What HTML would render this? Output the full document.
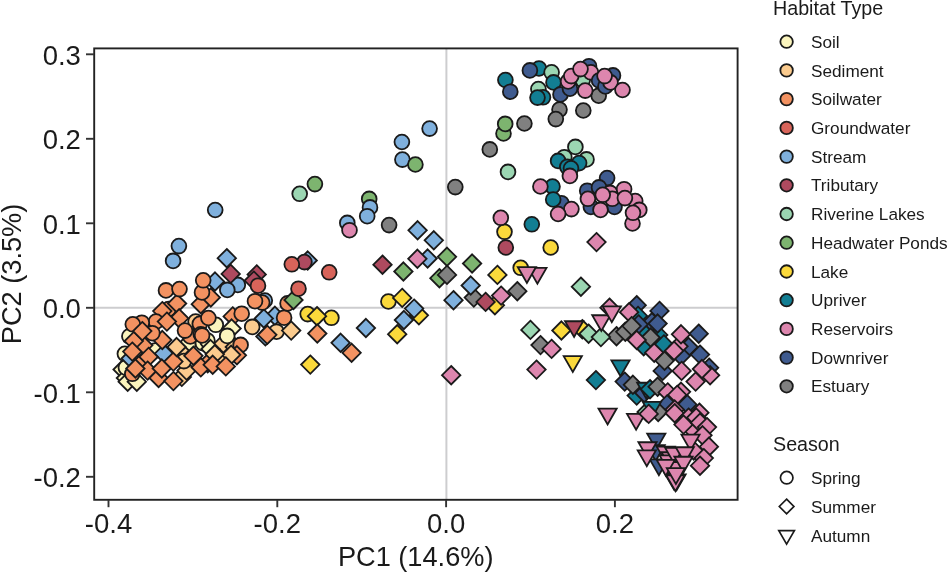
<!DOCTYPE html>
<html><head><meta charset="utf-8"><title>PCA Habitat Type</title>
<style>html,body{margin:0;padding:0;background:#fff}body{width:948px;height:573px;position:relative;overflow:hidden}</style></head>
<body>
<svg width="948" height="573" viewBox="0 0 948 573" style="position:absolute;left:0;top:0">
<rect width="948" height="573" fill="#fff"/>
<line x1="94" x2="738" y1="307.8" y2="307.8" stroke="#cdcdcf" stroke-width="2"/>
<line x1="446.4" x2="446.4" y1="48" y2="500" stroke="#cdcdcf" stroke-width="2"/>
<g stroke="#1a1a1a" stroke-width="1.8" stroke-linejoin="miter">
<circle cx="429.6" cy="128.6" r="7.4" fill="#7FB0DD"/>
<circle cx="401.9" cy="142.0" r="7.4" fill="#7FB0DD"/>
<circle cx="505.4" cy="80.0" r="7.4" fill="#127E93"/>
<circle cx="510.3" cy="91.7" r="7.4" fill="#3F5B8F"/>
<circle cx="503.5" cy="133.5" r="7.4" fill="#7DB46F"/>
<circle cx="505.2" cy="123.9" r="7.4" fill="#7DB46F"/>
<circle cx="539.0" cy="68.5" r="7.4" fill="#127E93"/>
<circle cx="529.9" cy="70.4" r="7.4" fill="#3F5B8F"/>
<circle cx="551.6" cy="72.3" r="7.4" fill="#9BD6B2"/>
<circle cx="553.5" cy="82.4" r="7.4" fill="#127E93"/>
<circle cx="538.4" cy="89.0" r="7.4" fill="#9BD6B2"/>
<circle cx="543.0" cy="97.3" r="7.4" fill="#127E93"/>
<circle cx="537.5" cy="97.6" r="7.4" fill="#127E93"/>
<circle cx="560.5" cy="94.4" r="7.4" fill="#3F5B8F"/>
<circle cx="570.0" cy="88.7" r="7.4" fill="#3F5B8F"/>
<circle cx="582.7" cy="80.1" r="7.4" fill="#9BD6B2"/>
<circle cx="568.1" cy="81.4" r="7.4" fill="#DD86AE"/>
<circle cx="571.3" cy="76.1" r="7.4" fill="#DD86AE"/>
<circle cx="589.0" cy="66.2" r="7.4" fill="#3F5B8F"/>
<circle cx="590.9" cy="72.3" r="7.4" fill="#DD86AE"/>
<circle cx="580.5" cy="69.1" r="7.4" fill="#DD86AE"/>
<circle cx="598.7" cy="95.7" r="7.4" fill="#808080"/>
<circle cx="585.2" cy="90.6" r="7.4" fill="#DD86AE"/>
<circle cx="599.1" cy="80.5" r="7.4" fill="#3F5B8F"/>
<circle cx="605.4" cy="86.4" r="7.4" fill="#3F5B8F"/>
<circle cx="613.0" cy="75.4" r="7.4" fill="#3F5B8F"/>
<circle cx="610.5" cy="82.4" r="7.4" fill="#DD86AE"/>
<circle cx="604.6" cy="76.1" r="7.4" fill="#DD86AE"/>
<circle cx="622.5" cy="90.0" r="7.4" fill="#DD86AE"/>
<circle cx="559.5" cy="109.6" r="7.4" fill="#808080"/>
<circle cx="555.8" cy="119.1" r="7.4" fill="#808080"/>
<circle cx="583.3" cy="110.5" r="7.4" fill="#808080"/>
<circle cx="524.4" cy="123.5" r="7.4" fill="#808080"/>
<circle cx="575.4" cy="146.9" r="7.4" fill="#9BD6B2"/>
<circle cx="564.3" cy="157.2" r="7.4" fill="#9BD6B2"/>
<circle cx="558.1" cy="160.9" r="7.4" fill="#127E93"/>
<circle cx="586.5" cy="159.4" r="7.4" fill="#9BD6B2"/>
<circle cx="579.1" cy="163.1" r="7.4" fill="#127E93"/>
<circle cx="567.3" cy="166.8" r="7.4" fill="#127E93"/>
<circle cx="571.0" cy="168.3" r="7.4" fill="#127E93"/>
<circle cx="569.9" cy="175.9" r="7.4" fill="#DD86AE"/>
<circle cx="552.5" cy="186.5" r="7.4" fill="#127E93"/>
<circle cx="540.4" cy="186.5" r="7.4" fill="#DD86AE"/>
<circle cx="561.4" cy="203.2" r="7.4" fill="#3F5B8F"/>
<circle cx="553.2" cy="199.5" r="7.4" fill="#127E93"/>
<circle cx="571.4" cy="209.1" r="7.4" fill="#DD86AE"/>
<circle cx="558.1" cy="214.0" r="7.4" fill="#DD86AE"/>
<circle cx="531.8" cy="224.3" r="7.4" fill="#127E93"/>
<circle cx="550.7" cy="247.5" r="7.4" fill="#FBD93B"/>
<path d="M596.5 232.9L605.7 242.1L596.5 251.29999999999998L587.3 242.1Z" fill="#DD86AE"/>
<circle cx="607.1" cy="178.1" r="7.4" fill="#3F5B8F"/>
<circle cx="587.2" cy="190.7" r="7.4" fill="#3F5B8F"/>
<circle cx="599.0" cy="187.4" r="7.4" fill="#3F5B8F"/>
<circle cx="590.9" cy="206.9" r="7.4" fill="#3F5B8F"/>
<circle cx="614.5" cy="206.9" r="7.4" fill="#3F5B8F"/>
<circle cx="610.1" cy="192.9" r="7.4" fill="#DD86AE"/>
<circle cx="612.3" cy="198.8" r="7.4" fill="#DD86AE"/>
<circle cx="624.1" cy="189.2" r="7.4" fill="#DD86AE"/>
<circle cx="635.2" cy="201.0" r="7.4" fill="#DD86AE"/>
<circle cx="639.3" cy="209.9" r="7.4" fill="#DD86AE"/>
<circle cx="632.5" cy="223.5" r="7.4" fill="#DD86AE"/>
<circle cx="633.0" cy="212.8" r="7.4" fill="#DD86AE"/>
<circle cx="624.9" cy="198.1" r="7.4" fill="#DD86AE"/>
<circle cx="587.9" cy="198.8" r="7.4" fill="#DD86AE"/>
<circle cx="602.7" cy="194.8" r="7.4" fill="#DD86AE"/>
<circle cx="600.5" cy="209.9" r="7.4" fill="#DD86AE"/>
<circle cx="215.2" cy="210.0" r="7.4" fill="#7FB0DD"/>
<circle cx="299.7" cy="193.8" r="7.4" fill="#9BD6B2"/>
<circle cx="314.9" cy="184.1" r="7.4" fill="#7DB46F"/>
<circle cx="178.9" cy="246.1" r="7.4" fill="#7FB0DD"/>
<circle cx="402.4" cy="159.6" r="7.4" fill="#7FB0DD"/>
<circle cx="415.4" cy="164.5" r="7.4" fill="#7DB46F"/>
<circle cx="455.3" cy="187.1" r="7.4" fill="#808080"/>
<circle cx="369.2" cy="198.9" r="7.4" fill="#7DB46F"/>
<circle cx="370.0" cy="207.4" r="7.4" fill="#7FB0DD"/>
<circle cx="367.2" cy="216.2" r="7.4" fill="#7FB0DD"/>
<circle cx="347.3" cy="222.9" r="7.4" fill="#7FB0DD"/>
<circle cx="349.5" cy="230.2" r="7.4" fill="#DD86AE"/>
<circle cx="389.1" cy="225.1" r="7.4" fill="#808080"/>
<path d="M417.6 221.10000000000002L426.8 230.3L417.6 239.5L408.40000000000003 230.3Z" fill="#7FB0DD"/>
<path d="M433.8 231.10000000000002L443.0 240.3L433.8 249.5L424.6 240.3Z" fill="#7FB0DD"/>
<circle cx="129.4" cy="336.3" r="7.4" fill="#FBF5BE"/>
<path d="M122.6 360.3L131.79999999999998 369.5L122.6 378.7L113.39999999999999 369.5Z" fill="#FBF5BE"/>
<path d="M125.9 368.8L135.1 378.0L125.9 387.2L116.7 378.0Z" fill="#FBF5BE"/>
<path d="M127.7 372.5L136.9 381.7L127.7 390.9L118.5 381.7Z" fill="#FBF5BE"/>
<path d="M136.8 372.5L146.0 381.7L136.8 390.9L127.60000000000001 381.7Z" fill="#FBF5BE"/>
<circle cx="124.9" cy="353.8" r="7.4" fill="#FBF5BE"/>
<circle cx="125.9" cy="367.6" r="7.4" fill="#FBF5BE"/>
<circle cx="155.5" cy="350.5" r="7.4" fill="#FBF5BE"/>
<circle cx="188.2" cy="344.2" r="7.4" fill="#FBF5BE"/>
<circle cx="202.9" cy="343.2" r="7.4" fill="#FBF5BE"/>
<path d="M130.7 349.3L139.89999999999998 358.5L130.7 367.7L121.49999999999999 358.5Z" fill="#7FB0DD"/>
<path d="M163.9 344.5L173.1 353.7L163.9 362.9L154.70000000000002 353.7Z" fill="#7FB0DD"/>
<path d="M179.7 341.3L188.89999999999998 350.5L179.7 359.7L170.5 350.5Z" fill="#FBCB8E"/>
<path d="M181.8 367.7L191.0 376.9L181.8 386.09999999999997L172.60000000000002 376.9Z" fill="#FBCB8E"/>
<path d="M186.6 361.40000000000003L195.79999999999998 370.6L186.6 379.8L177.4 370.6Z" fill="#FBCB8E"/>
<circle cx="183.9" cy="361.1" r="7.4" fill="#FBCB8E"/>
<circle cx="132.3" cy="373.8" r="7.4" fill="#F39261"/>
<path d="M143.3 336.1L152.5 345.3L143.3 354.5L134.10000000000002 345.3Z" fill="#F39261"/>
<path d="M133.8 331.90000000000003L143.0 341.1L133.8 350.3L124.60000000000001 341.1Z" fill="#F39261"/>
<path d="M132.3 342.40000000000003L141.5 351.6L132.3 360.8L123.10000000000001 351.6Z" fill="#F39261"/>
<path d="M142.8 352.40000000000003L152.0 361.6L142.8 370.8L133.60000000000002 361.6Z" fill="#F39261"/>
<path d="M148.6 347.7L157.79999999999998 356.9L148.6 366.09999999999997L139.4 356.9Z" fill="#F39261"/>
<path d="M147.6 361.40000000000003L156.79999999999998 370.6L147.6 379.8L138.4 370.6Z" fill="#F39261"/>
<path d="M135.4 359.3L144.6 368.5L135.4 377.7L126.2 368.5Z" fill="#F39261"/>
<path d="M158.6 368.8L167.79999999999998 378.0L158.6 387.2L149.4 378.0Z" fill="#F39261"/>
<path d="M161.8 359.3L171.0 368.5L161.8 377.7L152.60000000000002 368.5Z" fill="#F39261"/>
<path d="M173.4 371.90000000000003L182.6 381.1L173.4 390.3L164.20000000000002 381.1Z" fill="#F39261"/>
<path d="M173.4 352.40000000000003L182.6 361.6L173.4 370.8L164.20000000000002 361.6Z" fill="#F39261"/>
<path d="M162.3 330.8L171.5 340.0L162.3 349.2L153.10000000000002 340.0Z" fill="#F39261"/>
<path d="M207.7 354.0L216.89999999999998 363.2L207.7 372.4L198.5 363.2Z" fill="#F39261"/>
<path d="M200.8 358.2L210.0 367.4L200.8 376.59999999999997L191.60000000000002 367.4Z" fill="#F39261"/>
<path d="M193.4 346.6L202.6 355.8L193.4 365.0L184.20000000000002 355.8Z" fill="#F39261"/>
<circle cx="195.6" cy="321.6" r="7.4" fill="#FBCB8E"/>
<path d="M176.6 337.8L185.79999999999998 347.0L176.6 356.2L167.4 347.0Z" fill="#FBCB8E"/>
<circle cx="168.7" cy="309.0" r="7.4" fill="#F39261"/>
<path d="M177.1 294.3L186.29999999999998 303.5L177.1 312.7L167.9 303.5Z" fill="#F39261"/>
<path d="M162.3 301.90000000000003L171.5 311.1L162.3 320.3L153.10000000000002 311.1Z" fill="#F39261"/>
<path d="M179.2 309.1L188.39999999999998 318.3L179.2 327.5L170.0 318.3Z" fill="#F39261"/>
<circle cx="156.0" cy="321.6" r="7.4" fill="#F39261"/>
<path d="M166.9 312.40000000000003L176.1 321.6L166.9 330.8L157.70000000000002 321.6Z" fill="#F39261"/>
<path d="M200.8 295.0L210.0 304.2L200.8 313.4L191.60000000000002 304.2Z" fill="#F39261"/>
<circle cx="141.8" cy="322.7" r="7.4" fill="#F39261"/>
<circle cx="132.8" cy="324.3" r="7.4" fill="#F39261"/>
<circle cx="152.3" cy="333.2" r="7.4" fill="#F39261"/>
<path d="M142.3 321.90000000000003L151.5 331.1L142.3 340.3L133.10000000000002 331.1Z" fill="#F39261"/>
<circle cx="199.8" cy="323.8" r="7.4" fill="#F39261"/>
<circle cx="190.3" cy="336.4" r="7.4" fill="#F39261"/>
<circle cx="185.0" cy="330.6" r="7.4" fill="#F39261"/>
<circle cx="200.8" cy="334.3" r="7.4" fill="#F39261"/>
<path d="M221.1 336.7L230.29999999999998 345.9L221.1 355.09999999999997L211.9 345.9Z" fill="#FBCB8E"/>
<path d="M234.8 337.8L244.0 347.0L234.8 356.2L225.60000000000002 347.0Z" fill="#FBCB8E"/>
<circle cx="215.8" cy="324.8" r="7.4" fill="#FBF5BE"/>
<circle cx="208.4" cy="318.0" r="7.4" fill="#F39261"/>
<path d="M232.7 307.2L241.89999999999998 316.4L232.7 325.59999999999997L223.5 316.4Z" fill="#F39261"/>
<circle cx="241.7" cy="313.7" r="7.4" fill="#F39261"/>
<path d="M231.6 319.3L240.79999999999998 328.5L231.6 337.7L222.4 328.5Z" fill="#FBF5BE"/>
<circle cx="227.2" cy="335.9" r="7.4" fill="#FBF5BE"/>
<circle cx="252.2" cy="326.9" r="7.4" fill="#FBCB8E"/>
<path d="M274.9 306.6L284.09999999999997 315.8L274.9 325.0L265.7 315.8Z" fill="#7FB0DD"/>
<path d="M263.8 309.3L273.0 318.5L263.8 327.7L254.60000000000002 318.5Z" fill="#7FB0DD"/>
<circle cx="284.1" cy="317.7" r="7.4" fill="#F39261"/>
<circle cx="276.5" cy="331.7" r="7.4" fill="#FBCB8E"/>
<path d="M291.2 321.40000000000003L300.4 330.6L291.2 339.8L282.0 330.6Z" fill="#FBCB8E"/>
<path d="M265.4 327.2L274.59999999999997 336.4L265.4 345.59999999999997L256.2 336.4Z" fill="#7FB0DD"/>
<path d="M267.3 325.6L276.5 334.8L267.3 344.0L258.1 334.8Z" fill="#F39261"/>
<circle cx="207.4" cy="340.6" r="7.4" fill="#FBF5BE"/>
<circle cx="202.1" cy="335.4" r="7.4" fill="#F39261"/>
<circle cx="240.6" cy="344.9" r="7.4" fill="#F39261"/>
<path d="M210.5 339.8L219.7 349.0L210.5 358.2L201.3 349.0Z" fill="#FBF5BE"/>
<path d="M220.0 349.3L229.2 358.5L220.0 367.7L210.8 358.5Z" fill="#FBCB8E"/>
<path d="M236.9 346.1L246.1 355.3L236.9 364.5L227.70000000000002 355.3Z" fill="#F39261"/>
<path d="M231.1 345.6L240.29999999999998 354.8L231.1 364.0L221.9 354.8Z" fill="#FBCB8E"/>
<path d="M214.8 345.1L224.0 354.3L214.8 363.5L205.60000000000002 354.3Z" fill="#FBCB8E"/>
<path d="M212.7 355.6L221.89999999999998 364.8L212.7 374.0L203.5 364.8Z" fill="#F39261"/>
<path d="M225.8 357.2L235.0 366.4L225.8 375.59999999999997L216.60000000000002 366.4Z" fill="#F39261"/>
<path d="M307.7 251.3L316.9 260.5L307.7 269.7L298.5 260.5Z" fill="#7FB0DD"/>
<circle cx="173.1" cy="260.9" r="7.4" fill="#7FB0DD"/>
<path d="M226.8 249.0L236.0 258.2L226.8 267.4L217.60000000000002 258.2Z" fill="#7FB0DD"/>
<circle cx="237.8" cy="284.9" r="7.4" fill="#7FB0DD"/>
<path d="M230.7 264.7L239.89999999999998 273.9L230.7 283.09999999999997L221.5 273.9Z" fill="#AE4A5F"/>
<circle cx="227.3" cy="289.9" r="7.4" fill="#7FB0DD"/>
<path d="M215.0 272.3L224.2 281.5L215.0 290.7L205.8 281.5Z" fill="#7FB0DD"/>
<path d="M210.8 288.3L220.0 297.5L210.8 306.7L201.60000000000002 297.5Z" fill="#F39261"/>
<circle cx="202.0" cy="292.4" r="7.4" fill="#F39261"/>
<circle cx="203.2" cy="280.3" r="7.4" fill="#F39261"/>
<circle cx="166.0" cy="290.4" r="7.4" fill="#F39261"/>
<circle cx="179.5" cy="289.1" r="7.4" fill="#F39261"/>
<path d="M256.7 265.2L265.9 274.4L256.7 283.59999999999997L247.5 274.4Z" fill="#AE4A5F"/>
<path d="M253.8 271.40000000000003L263.0 280.6L253.8 289.8L244.60000000000002 280.6Z" fill="#AE4A5F"/>
<circle cx="258.0" cy="285.7" r="7.4" fill="#D8645A"/>
<circle cx="304.4" cy="262.1" r="7.4" fill="#AE4A5F"/>
<circle cx="291.8" cy="264.3" r="7.4" fill="#D8645A"/>
<circle cx="287.6" cy="303.4" r="7.4" fill="#F39261"/>
<path d="M293.5 290.8L302.7 300.0L293.5 309.2L284.3 300.0Z" fill="#7DB46F"/>
<circle cx="298.5" cy="288.7" r="7.4" fill="#D8645A"/>
<circle cx="264.8" cy="300.5" r="7.4" fill="#7FB0DD"/>
<circle cx="262.2" cy="302.6" r="7.4" fill="#F39261"/>
<circle cx="255.0" cy="301.2" r="7.4" fill="#F39261"/>
<circle cx="329.2" cy="272.3" r="7.4" fill="#D8645A"/>
<path d="M382.5 255.5L391.7 264.7L382.5 273.9L373.3 264.7Z" fill="#AE4A5F"/>
<path d="M403.4 262.3L412.59999999999997 271.5L403.4 280.7L394.2 271.5Z" fill="#7DB46F"/>
<path d="M427.6 249.3L436.8 258.5L427.6 267.7L418.40000000000003 258.5Z" fill="#7FB0DD"/>
<path d="M417.4 249.60000000000002L426.59999999999997 258.8L417.4 268.0L408.2 258.8Z" fill="#DD86AE"/>
<path d="M447.0 247.60000000000002L456.2 256.8L447.0 266.0L437.8 256.8Z" fill="#7DB46F"/>
<path d="M439.4 269.0L448.59999999999997 278.2L439.4 287.4L430.2 278.2Z" fill="#7DB46F"/>
<path d="M447.0 265.7L456.2 274.9L447.0 284.09999999999997L437.8 274.9Z" fill="#808080"/>
<circle cx="307.7" cy="314.1" r="7.4" fill="#FBD93B"/>
<circle cx="331.4" cy="317.8" r="7.4" fill="#FBD93B"/>
<path d="M317.0 307.0L326.2 316.2L317.0 325.4L307.8 316.2Z" fill="#FBD93B"/>
<path d="M317.3 324.3L326.5 333.5L317.3 342.7L308.1 333.5Z" fill="#F39261"/>
<path d="M310.3 355.40000000000003L319.5 364.6L310.3 373.8L301.1 364.6Z" fill="#FBD93B"/>
<path d="M340.6 333.6L349.8 342.8L340.6 352.0L331.40000000000003 342.8Z" fill="#7FB0DD"/>
<path d="M351.6 343.6L360.8 352.8L351.6 362.0L342.40000000000003 352.8Z" fill="#F39261"/>
<path d="M365.9 318.8L375.09999999999997 328.0L365.9 337.2L356.7 328.0Z" fill="#7FB0DD"/>
<circle cx="388.4" cy="301.5" r="7.4" fill="#FBD93B"/>
<path d="M402.2 288.7L411.4 297.9L402.2 307.09999999999997L393.0 297.9Z" fill="#FBD93B"/>
<path d="M418.9 306.1L428.09999999999997 315.3L418.9 324.5L409.7 315.3Z" fill="#FBD93B"/>
<path d="M414.1 299.40000000000003L423.3 308.6L414.1 317.8L404.90000000000003 308.6Z" fill="#7FB0DD"/>
<path d="M403.9 310.8L413.09999999999997 320.0L403.9 329.2L394.7 320.0Z" fill="#7FB0DD"/>
<path d="M397.2 325.0L406.4 334.2L397.2 343.4L388.0 334.2Z" fill="#FBD93B"/>
<path d="M451.2 366.0L460.4 375.2L451.2 384.4L442.0 375.2Z" fill="#DD86AE"/>
<circle cx="504.5" cy="231.8" r="7.4" fill="#FBD93B"/>
<circle cx="505.8" cy="247.5" r="7.4" fill="#AE4A5F"/>
<path d="M472.1 254.3L481.3 263.5L472.1 272.7L462.90000000000003 263.5Z" fill="#7DB46F"/>
<path d="M497.4 265.7L506.59999999999997 274.9L497.4 284.09999999999997L488.2 274.9Z" fill="#FBD93B"/>
<circle cx="520.7" cy="267.8" r="7.4" fill="#FBD93B"/>
<path d="M528.30 267.93L546.50 267.93L537.4 283.73Z" fill="#DD86AE"/>
<path d="M517.80 267.03L536.00 267.03L526.9 282.83Z" fill="#DD86AE"/>
<path d="M473.8 288.40000000000003L483.0 297.6L473.8 306.8L464.6 297.6Z" fill="#808080"/>
<path d="M470.7 276.3L479.9 285.5L470.7 294.7L461.5 285.5Z" fill="#7FB0DD"/>
<path d="M494.9 296.0L504.09999999999997 305.2L494.9 314.4L485.7 305.2Z" fill="#FBD93B"/>
<path d="M517.3 282.0L526.5 291.2L517.3 300.4L508.09999999999997 291.2Z" fill="#808080"/>
<path d="M501.1 286.40000000000003L510.3 295.6L501.1 304.8L491.90000000000003 295.6Z" fill="#DD86AE"/>
<path d="M485.6 292.7L494.8 301.9L485.6 311.09999999999997L476.40000000000003 301.9Z" fill="#AE4A5F"/>
<path d="M453.5 291.0L462.7 300.2L453.5 309.4L444.3 300.2Z" fill="#7FB0DD"/>
<path d="M580.9 277.5L590.1 286.7L580.9 295.9L571.6999999999999 286.7Z" fill="#9BD6B2"/>
<circle cx="489.8" cy="149.4" r="7.4" fill="#808080"/>
<circle cx="508.0" cy="171.9" r="7.4" fill="#9BD6B2"/>
<circle cx="500.8" cy="217.8" r="7.4" fill="#DD86AE"/>
<path d="M530.4 320.7L539.6 329.9L530.4 339.09999999999997L521.1999999999999 329.9Z" fill="#9BD6B2"/>
<path d="M540.5 335.90000000000003L549.7 345.1L540.5 354.3L531.3 345.1Z" fill="#808080"/>
<path d="M551.6 339.7L560.8000000000001 348.9L551.6 358.09999999999997L542.4 348.9Z" fill="#DD86AE"/>
<path d="M561.4 321.3L570.6 330.5L561.4 339.7L552.1999999999999 330.5Z" fill="#FBD93B"/>
<path d="M582.3 320.0L591.5 329.2L582.3 338.4L573.0999999999999 329.2Z" fill="#FBD93B"/>
<path d="M565.00 321.23L583.20 321.23L574.1 337.03Z" fill="#AE4A5F"/>
<path d="M616.5 327.0L625.7 336.2L616.5 345.4L607.3 336.2Z" fill="#808080"/>
<path d="M588.6 324.5L597.8000000000001 333.7L588.6 342.9L579.4 333.7Z" fill="#9BD6B2"/>
<path d="M600.9 327.90000000000003L610.1 337.1L600.9 346.3L591.6999999999999 337.1Z" fill="#9BD6B2"/>
<path d="M592.20 315.23L610.40 315.23L601.3 331.03Z" fill="#DD86AE"/>
<path d="M609.5 298.5L618.7 307.7L609.5 316.9L600.3 307.7Z" fill="#DD86AE"/>
<path d="M602.70 306.33L620.90 306.33L611.8 322.13Z" fill="#DD86AE"/>
<path d="M563.70 356.13L581.90 356.13L572.8 371.93Z" fill="#FBD93B"/>
<path d="M536.5 360.40000000000003L545.7 369.6L536.5 378.8L527.3 369.6Z" fill="#DD86AE"/>
<path d="M595.9 370.90000000000003L605.1 380.1L595.9 389.3L586.6999999999999 380.1Z" fill="#127E93"/>
<path d="M598.50 408.53L616.70 408.53L607.6 424.33Z" fill="#DD86AE"/>
<path d="M644.3 323.8L653.5 333.0L644.3 342.2L635.0999999999999 333.0Z" fill="#127E93"/>
<path d="M658.2 325.7L667.4000000000001 334.9L658.2 344.09999999999997L649.0 334.9Z" fill="#127E93"/>
<path d="M643.7 337.1L652.9000000000001 346.3L643.7 355.5L634.5 346.3Z" fill="#127E93"/>
<path d="M636.7 296.0L645.9000000000001 305.2L636.7 314.4L627.5 305.2Z" fill="#3F5B8F"/>
<path d="M638.0 306.7L647.2 315.9L638.0 325.09999999999997L628.8 315.9Z" fill="#127E93"/>
<path d="M629.1 303.0L638.3000000000001 312.2L629.1 321.4L619.9 312.2Z" fill="#DD86AE"/>
<path d="M659.5 301.7L668.7 310.9L659.5 320.09999999999997L650.3 310.9Z" fill="#3F5B8F"/>
<path d="M651.9 313.1L661.1 322.3L651.9 331.5L642.6999999999999 322.3Z" fill="#3F5B8F"/>
<path d="M657.6 314.3L666.8000000000001 323.5L657.6 332.7L648.4 323.5Z" fill="#3F5B8F"/>
<path d="M638.6 315.2L647.8000000000001 324.4L638.6 333.59999999999997L629.4 324.4Z" fill="#3F5B8F"/>
<path d="M625.3 322.6L634.5 331.8L625.3 341.0L616.0999999999999 331.8Z" fill="#808080"/>
<path d="M631.6 316.90000000000003L640.8000000000001 326.1L631.6 335.3L622.4 326.1Z" fill="#808080"/>
<path d="M650.6 328.3L659.8000000000001 337.5L650.6 346.7L641.4 337.5Z" fill="#808080"/>
<path d="M636.7 330.8L645.9000000000001 340.0L636.7 349.2L627.5 340.0Z" fill="#DD86AE"/>
<path d="M663.9 335.2L673.1 344.4L663.9 353.59999999999997L654.6999999999999 344.4Z" fill="#127E93"/>
<path d="M654.2 343.5L663.4000000000001 352.7L654.2 361.9L645.0 352.7Z" fill="#DD86AE"/>
<path d="M688.6 337.8L697.8000000000001 347.0L688.6 356.2L679.4 347.0Z" fill="#3F5B8F"/>
<path d="M681.0 346.6L690.2 355.8L681.0 365.0L671.8 355.8Z" fill="#3F5B8F"/>
<path d="M678.5 337.1L687.7 346.3L678.5 355.5L669.3 346.3Z" fill="#DD86AE"/>
<path d="M674.1 341.6L683.3000000000001 350.8L674.1 360.0L664.9 350.8Z" fill="#DD86AE"/>
<path d="M681.0 325.1L690.2 334.3L681.0 343.5L671.8 334.3Z" fill="#DD86AE"/>
<path d="M698.7 324.5L707.9000000000001 333.7L698.7 342.9L689.5 333.7Z" fill="#3F5B8F"/>
<path d="M700.0 345.40000000000003L709.2 354.6L700.0 363.8L690.8 354.6Z" fill="#3F5B8F"/>
<path d="M611.40 360.43L629.60 360.43L620.5 376.23Z" fill="#127E93"/>
<path d="M662.7 361.7L671.9000000000001 370.9L662.7 380.09999999999997L653.5 370.9Z" fill="#3F5B8F"/>
<path d="M664.6 351.6L673.8000000000001 360.8L664.6 370.0L655.4 360.8Z" fill="#808080"/>
<path d="M681.6 361.7L690.8000000000001 370.9L681.6 380.09999999999997L672.4 370.9Z" fill="#DD86AE"/>
<path d="M709.1 358.5L718.3000000000001 367.7L709.1 376.9L699.9 367.7Z" fill="#3F5B8F"/>
<path d="M710.1 366.1L719.3000000000001 375.3L710.1 384.5L700.9 375.3Z" fill="#DD86AE"/>
<path d="M701.9 359.8L711.1 369.0L701.9 378.2L692.6999999999999 369.0Z" fill="#DD86AE"/>
<path d="M695.6 372.40000000000003L704.8000000000001 381.6L695.6 390.8L686.4 381.6Z" fill="#DD86AE"/>
<path d="M624.7 372.40000000000003L633.9000000000001 381.6L624.7 390.8L615.5 381.6Z" fill="#3F5B8F"/>
<path d="M636.7 386.40000000000003L645.9000000000001 395.6L636.7 404.8L627.5 395.6Z" fill="#127E93"/>
<path d="M632.9 375.6L642.1 384.8L632.9 394.0L623.6999999999999 384.8Z" fill="#808080"/>
<path d="M644.3 383.8L653.5 393.0L644.3 402.2L635.0999999999999 393.0Z" fill="#3F5B8F"/>
<path d="M637.10 382.73L655.30 382.73L646.2 398.53Z" fill="#127E93"/>
<path d="M650.0 380.0L659.2 389.2L650.0 398.4L640.8 389.2Z" fill="#127E93"/>
<path d="M657.6 377.5L666.8000000000001 386.7L657.6 395.9L648.4 386.7Z" fill="#808080"/>
<path d="M681.0 382.6L690.2 391.8L681.0 401.0L671.8 391.8Z" fill="#DD86AE"/>
<path d="M667.7 383.2L676.9000000000001 392.4L667.7 401.59999999999997L658.5 392.4Z" fill="#DD86AE"/>
<path d="M677.2 385.7L686.4000000000001 394.9L677.2 404.09999999999997L668.0 394.9Z" fill="#DD86AE"/>
<path d="M667.1 395.2L676.3000000000001 404.4L667.1 413.59999999999997L657.9 404.4Z" fill="#3F5B8F"/>
<path d="M687.3 395.2L696.5 404.4L687.3 413.59999999999997L678.0999999999999 404.4Z" fill="#3F5B8F"/>
<path d="M646.6 402.8L655.8000000000001 412.0L646.6 421.2L637.4 412.0Z" fill="#9BD6B2"/>
<path d="M658.2 402.8L667.4000000000001 412.0L658.2 421.2L649.0 412.0Z" fill="#808080"/>
<path d="M642.80 401.83L661.00 401.83L651.9 417.63Z" fill="#127E93"/>
<path d="M627.00 413.83L645.20 413.83L636.1 429.63Z" fill="#DD86AE"/>
<path d="M648.7 404.7L657.9000000000001 413.9L648.7 423.09999999999997L639.5 413.9Z" fill="#DD86AE"/>
<path d="M674.7 400.3L683.9000000000001 409.5L674.7 418.7L665.5 409.5Z" fill="#DD86AE"/>
<path d="M699.4 403.5L708.6 412.7L699.4 421.9L690.1999999999999 412.7Z" fill="#DD86AE"/>
<path d="M674.7 404.0L683.9000000000001 413.2L674.7 422.4L665.5 413.2Z" fill="#DD86AE"/>
<path d="M688.6 408.40000000000003L697.8000000000001 417.6L688.6 426.8L679.4 417.6Z" fill="#DD86AE"/>
<path d="M696.2 408.40000000000003L705.4000000000001 417.6L696.2 426.8L687.0 417.6Z" fill="#DD86AE"/>
<path d="M694.3 422.1L703.5 431.3L694.3 440.5L685.0999999999999 431.3Z" fill="#DD86AE"/>
<path d="M683.5 415.40000000000003L692.7 424.6L683.5 433.8L674.3 424.6Z" fill="#DD86AE"/>
<path d="M700.0 413.5L709.2 422.7L700.0 431.9L690.8 422.7Z" fill="#DD86AE"/>
<path d="M707.0 417.90000000000003L716.2 427.1L707.0 436.3L697.8 427.1Z" fill="#DD86AE"/>
<path d="M702.5 426.1L711.7 435.3L702.5 444.5L693.3 435.3Z" fill="#DD86AE"/>
<path d="M693.7 441.3L702.9000000000001 450.5L693.7 459.7L684.5 450.5Z" fill="#DD86AE"/>
<path d="M708.9 437.5L718.1 446.7L708.9 455.9L699.6999999999999 446.7Z" fill="#DD86AE"/>
<path d="M703.8 448.90000000000003L713.0 458.1L703.8 467.3L694.5999999999999 458.1Z" fill="#DD86AE"/>
<path d="M700.0 456.5L709.2 465.7L700.0 474.9L690.8 465.7Z" fill="#DD86AE"/>
<path d="M647.20 433.63L665.40 433.63L656.3 449.43Z" fill="#3F5B8F"/>
<path d="M646.60 445.03L664.80 445.03L655.7 460.83Z" fill="#3F5B8F"/>
<path d="M649.80 459.33L668.00 459.33L658.9 475.13Z" fill="#3F5B8F"/>
<path d="M638.40 442.23L656.60 442.23L647.5 458.03Z" fill="#DD86AE"/>
<path d="M637.70 450.43L655.90 450.43L646.8 466.23Z" fill="#DD86AE"/>
<path d="M656.70 446.63L674.90 446.63L665.8 462.43Z" fill="#DD86AE"/>
<path d="M661.50 452.23L679.70 452.23L670.6 468.03Z" fill="#DD86AE"/>
<path d="M659.60 455.33L677.80 455.33L668.7 471.13Z" fill="#DD86AE"/>
<path d="M665.20 447.93L683.40 447.93L674.3 463.73Z" fill="#DD86AE"/>
<path d="M667.00 462.03L685.20 462.03L676.1 477.83Z" fill="#DD86AE"/>
<path d="M681.40 434.63L699.60 434.63L690.5 450.43Z" fill="#DD86AE"/>
<path d="M675.70 447.23L693.90 447.23L684.8 463.03Z" fill="#DD86AE"/>
<path d="M664.70 473.33L682.90 473.33L673.8 489.13Z" fill="#DD86AE"/>
<path d="M667.50 474.33L685.70 474.33L676.6 490.13Z" fill="#DD86AE"/>
<path d="M666.30 475.33L684.50 475.33L675.4 491.13Z" fill="#DD86AE"/>
<path d="M656.70 459.93L674.90 459.93L665.8 475.73Z" fill="#DD86AE"/>
<path d="M674.40 456.73L692.60 456.73L683.5 472.53Z" fill="#DD86AE"/>
<path d="M666.80 468.13L685.00 468.13L675.9 483.93Z" fill="#DD86AE"/>
</g>
<rect x="94.2" y="48.4" width="643.4" height="451.4" fill="none" stroke="#222" stroke-width="1.9"/>
<line x1="108.5" x2="108.5" y1="500" y2="507.2" stroke="#333" stroke-width="1.9"/>
<line x1="277.3" x2="277.3" y1="500" y2="507.2" stroke="#333" stroke-width="1.9"/>
<line x1="446.1" x2="446.1" y1="500" y2="507.2" stroke="#333" stroke-width="1.9"/>
<line x1="614.9" x2="614.9" y1="500" y2="507.2" stroke="#333" stroke-width="1.9"/>
<line x1="86" x2="94" y1="54.3" y2="54.3" stroke="#333" stroke-width="1.9"/>
<line x1="86" x2="94" y1="138.8" y2="138.8" stroke="#333" stroke-width="1.9"/>
<line x1="86" x2="94" y1="223.3" y2="223.3" stroke="#333" stroke-width="1.9"/>
<line x1="86" x2="94" y1="307.8" y2="307.8" stroke="#333" stroke-width="1.9"/>
<line x1="86" x2="94" y1="392.3" y2="392.3" stroke="#333" stroke-width="1.9"/>
<line x1="86" x2="94" y1="476.8" y2="476.8" stroke="#333" stroke-width="1.9"/>
<g font-family="Liberation Sans, Arial, sans-serif" fill="#1a1a1a">
<text x="108.5" y="532.8" font-size="27.5" text-anchor="middle">-0.4</text>
<text x="277.3" y="532.8" font-size="27.5" text-anchor="middle">-0.2</text>
<text x="446.1" y="532.8" font-size="27.5" text-anchor="middle">0.0</text>
<text x="614.9" y="532.8" font-size="27.5" text-anchor="middle">0.2</text>
<text x="80.9" y="64.6" font-size="27.5" text-anchor="end">0.3</text>
<text x="80.9" y="149.10000000000002" font-size="27.5" text-anchor="end">0.2</text>
<text x="80.9" y="233.60000000000002" font-size="27.5" text-anchor="end">0.1</text>
<text x="80.9" y="318.1" font-size="27.5" text-anchor="end">0.0</text>
<text x="80.9" y="402.6" font-size="27.5" text-anchor="end">-0.1</text>
<text x="80.9" y="487.1" font-size="27.5" text-anchor="end">-0.2</text>
<text x="415.7" y="565.5" font-size="27.2" text-anchor="middle">PC1 (14.6%)</text>
<text transform="translate(21,273.9) rotate(-90)" font-size="27.2" text-anchor="middle">PC2 (3.5%)</text>
<text x="773" y="14.5" font-size="19.7">Habitat Type</text>
<circle cx="786.6" cy="41.7" r="6.25" fill="#FBF5BE" stroke="#1a1a1a" stroke-width="1.8"/>
<text x="811" y="47.8" font-size="17.2">Soil</text>
<circle cx="786.6" cy="70.4" r="6.25" fill="#FBCB8E" stroke="#1a1a1a" stroke-width="1.8"/>
<text x="811" y="76.5" font-size="17.2">Sediment</text>
<circle cx="786.6" cy="99.1" r="6.25" fill="#F39261" stroke="#1a1a1a" stroke-width="1.8"/>
<text x="811" y="105.2" font-size="17.2">Soilwater</text>
<circle cx="786.6" cy="127.9" r="6.25" fill="#D8645A" stroke="#1a1a1a" stroke-width="1.8"/>
<text x="811" y="134.0" font-size="17.2">Groundwater</text>
<circle cx="786.6" cy="156.6" r="6.25" fill="#7FB0DD" stroke="#1a1a1a" stroke-width="1.8"/>
<text x="811" y="162.7" font-size="17.2">Stream</text>
<circle cx="786.6" cy="185.3" r="6.25" fill="#AE4A5F" stroke="#1a1a1a" stroke-width="1.8"/>
<text x="811" y="191.4" font-size="17.2">Tributary</text>
<circle cx="786.6" cy="214.0" r="6.25" fill="#9BD6B2" stroke="#1a1a1a" stroke-width="1.8"/>
<text x="811" y="220.1" font-size="17.2">Riverine Lakes</text>
<circle cx="786.6" cy="242.7" r="6.25" fill="#7DB46F" stroke="#1a1a1a" stroke-width="1.8"/>
<text x="811" y="248.8" font-size="17.2">Headwater Ponds</text>
<circle cx="786.6" cy="271.5" r="6.25" fill="#FBD93B" stroke="#1a1a1a" stroke-width="1.8"/>
<text x="811" y="277.6" font-size="17.2">Lake</text>
<circle cx="786.6" cy="300.2" r="6.25" fill="#127E93" stroke="#1a1a1a" stroke-width="1.8"/>
<text x="811" y="306.3" font-size="17.2">Upriver</text>
<circle cx="786.6" cy="328.9" r="6.25" fill="#DD86AE" stroke="#1a1a1a" stroke-width="1.8"/>
<text x="811" y="335.0" font-size="17.2">Reservoirs</text>
<circle cx="786.6" cy="357.6" r="6.25" fill="#3F5B8F" stroke="#1a1a1a" stroke-width="1.8"/>
<text x="811" y="363.7" font-size="17.2">Downriver</text>
<circle cx="786.6" cy="386.3" r="6.25" fill="#808080" stroke="#1a1a1a" stroke-width="1.8"/>
<text x="811" y="392.4" font-size="17.2">Estuary</text>
<text x="773" y="450.5" font-size="19.7">Season</text>
<text x="811" y="483.8" font-size="17.2">Spring</text>
<text x="811" y="512.8" font-size="17.2">Summer</text>
<text x="811" y="542.4" font-size="17.2">Autumn</text>
</g>
<g stroke="#1a1a1a" stroke-width="1.7" fill="none">
<circle cx="786.7" cy="477.7" r="6.25"/>
<path d="M786.6 499.2L793.9 506.5L786.6 513.8L779.3 506.5Z"/>
<path d="M778.8 530.6L794.4 530.6L786.6 544.1Z"/>
</g>
</svg>
</body></html>
